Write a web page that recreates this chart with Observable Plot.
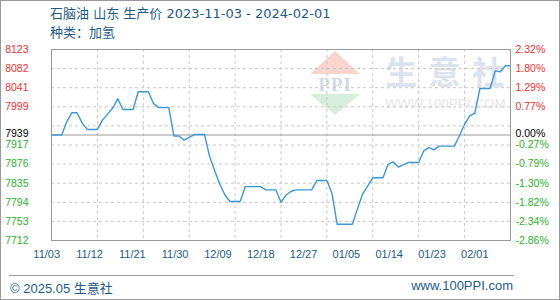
<!DOCTYPE html>
<html><head><meta charset="utf-8">
<script src="https://cdn.jsdelivr.net/npm/d3@7"></script>
<script src="https://cdn.jsdelivr.net/npm/@observablehq/plot@0.6"></script>
<style>
body{margin:0;background:#fff;}
#wrap{position:relative;width:560px;height:300px;overflow:hidden;background:#fff;font-family:"DejaVu Sans","Noto Sans CJK SC",sans-serif;}
#border{position:absolute;left:0;top:0;width:560px;height:300px;box-sizing:border-box;border:1px solid #9a9a9a;pointer-events:none;}
#title{position:absolute;left:50px;top:4px;font-size:13px;line-height:19px;color:#1d5a88;white-space:nowrap;}
#wm{position:absolute;left:0;top:0;}
#wmtext{position:absolute;left:385px;top:47px;font-family:"Noto Sans CJK SC",sans-serif;font-size:32px;font-weight:bold;letter-spacing:11.5px;color:#dde3ec;white-space:nowrap;}
#wmurl{position:absolute;left:385px;top:96px;font-family:"Liberation Sans",sans-serif;font-size:13.5px;color:#e6e6e6;white-space:nowrap;}
#chart{position:absolute;left:0;top:0;}
#footline{position:absolute;left:9px;top:275px;width:505px;height:0;border-top:1px solid #9a9a9a;}
#footl{position:absolute;left:10px;top:278px;font-family:"Liberation Sans","Noto Sans CJK SC",sans-serif;font-size:13px;color:#1d5a88;white-space:nowrap;}
#footr{position:absolute;right:47px;top:278px;font-family:"Liberation Sans",sans-serif;font-size:13px;color:#1d5a88;white-space:nowrap;}
</style></head><body>
<div id="wrap">
  <svg id="wm" width="560" height="300">
    <polygon points="335,51 310,74 360,74" fill="#f9d5d0"/>
    <text x="335" y="91" text-anchor="middle" font-family="Liberation Serif,serif" font-weight="bold" font-size="19" fill="#d2dae8" letter-spacing="1">PPI</text>
    <polygon points="310,94 360,94 335,115" fill="#d6eedb"/>
  </svg>
  <div id="wmtext">生意社</div>
  <div id="wmurl">WWW.100PPI.COM</div>
  <div id="chart"></div>
  <div id="title">石脑油 山东 生产价 2023-11-03 - 2024-02-01<br>种类：加氢</div>
  <div id="footline"></div>
  <div id="footl">© 2025.05 生意社</div>
  <div id="footr">www.100PPI.com</div>
  <div id="border"></div>
</div>
<script>
// ---- data ----
const dates = ["2023-11-03","2023-11-05","2023-11-06","2023-11-07","2023-11-08","2023-11-09","2023-11-10","2023-11-12",
  "2023-11-13","2023-11-14","2023-11-15","2023-11-16","2023-11-17","2023-11-19","2023-11-20","2023-11-22","2023-11-23",
  "2023-11-24","2023-11-26","2023-11-27","2023-11-28","2023-11-29","2023-12-01","2023-12-03","2023-12-04","2023-12-05",
  "2023-12-06","2023-12-07","2023-12-08","2023-12-10","2023-12-11","2023-12-14","2023-12-15","2023-12-17","2023-12-18",
  "2023-12-19","2023-12-20","2023-12-21","2023-12-24","2023-12-25","2023-12-27","2023-12-28","2023-12-29","2024-01-01",
  "2024-01-02","2024-01-03","2024-01-05","2024-01-07","2024-01-08","2024-01-09","2024-01-10","2024-01-12","2024-01-14",
  "2024-01-15","2024-01-16","2024-01-17","2024-01-18","2024-01-21","2024-01-22","2024-01-23","2024-01-24","2024-01-25",
  "2024-01-26","2024-01-28","2024-01-29","2024-01-30","2024-01-31","2024-02-01"];
const prices = [7939,7939,7968,7987,7987,7965,7951,7951,
  7971,7984,7997,8017,7994,7994,8032,8032,8007,
  7998,7998,7937,7937,7928,7940,7940,7893,7862,
  7833,7810,7796,7796,7828,7828,7821,7821,7794,
  7810,7818,7821,7821,7841,7841,7813,7747,7747,
  7780,7812,7847,7847,7876,7881,7870,7880,7880,
  7905,7912,7907,7915,7915,7938,7962,7980,7986,
  8039,8039,8077,8075,8088,8088];
const basePrice = 7939;
const yMin = 7712, yMax = 8123;
const leftLabels = ["7712","7753","7794","7835","7876","7917","7939","7999","8041","8082","8123"];
const rightLabels = ["-2.86%","-2.34%","-1.82%","-1.30%","-0.79%","-0.27%","0.00%","0.77%","1.29%","1.80%","2.32%"];
const xLabels = ["11/03","11/12","11/21","11/30","12/09","12/18","12/27","01/05","01/14","01/23","02/01"];
const startDate = "2023-11-03", endDate = "2024-02-01";

// ---- build ----
const parse = d3.utcParse("%Y-%m-%d");
const data = dates.map((d, i) => ({date: parse(d), price: prices[i]}));
const start = parse(startDate), end = parse(endDate);
const gridDates = d3.range(11).map(i => d3.utcDay.offset(start, 9 * i));
const gridVals = d3.range(11).map(i => yMin + i * (yMax - yMin) / 10);
// label positions: grid values with the one nearest the base replaced by the base price
const labelVals = gridVals.map((v, i) => i === 6 ? basePrice : v);
const labelData = labelVals.map((v, i) => ({v, left: leftLabels[i], right: rightLabels[i]}));
const isBase = d => Math.abs(d.v - basePrice) < 0.01;
const colorOf = d => isBase(d) ? "#000" : (d.v > basePrice ? "#f23030" : "#2db02d");
const baseLabels = labelData.filter(isBase);
const otherLabels = labelData.filter(d => !isBase(d));
const lblFont = {fontSize: 10.5, fontFamily: "Liberation Sans, Arial, sans-serif"};

const xLabelMarks = xLabels.map((t, i) => Plot.text([gridDates[i]], {
  x: d => d, frameAnchor: "bottom", dy: 17, text: () => t,
  dx: -4.8 - 3.09 * i, fill: "#1d5a88", fontSize: 11, fontFamily: "Liberation Sans, Arial, sans-serif"
}));

const plot = Plot.plot({
  width: 560, height: 300,
  marginLeft: 51, marginRight: 50, marginTop: 49, marginBottom: 60,
  style: {background: "transparent", overflow: "visible"},
  x: {type: "utc", domain: [start, end], axis: null},
  y: {domain: [yMin, yMax], axis: null},
  marks: [
    Plot.ruleY(gridVals.slice(1, -1), {stroke: "#c8c8c8", strokeDasharray: "3,3"}),
    Plot.ruleX(gridDates.slice(1, -1), {stroke: "#c8c8c8", strokeDasharray: "3,3"}),
    Plot.ruleY([basePrice], {stroke: "#9a9a9a", strokeWidth: 1.2}),
    Plot.line(data, {x: "date", y: "price", stroke: "#3a98d8", strokeWidth: 1.4}),
    Plot.frame({stroke: "#9a9a9a"}),
    Plot.text(otherLabels, {y: "v", text: "left", frameAnchor: "left", dx: -23, textAnchor: "end", fill: colorOf, ...lblFont}),
    Plot.text(baseLabels, {y: "v", text: "left", frameAnchor: "left", dx: -23, dy: -1.5, textAnchor: "end", fill: colorOf, ...lblFont}),
    Plot.text(otherLabels, {y: "v", text: "right", frameAnchor: "right", dx: 5, textAnchor: "start", fill: colorOf, ...lblFont}),
    Plot.text(baseLabels, {y: "v", text: "right", frameAnchor: "right", dx: 5, dy: -1.5, textAnchor: "start", fill: colorOf, ...lblFont}),
    ...xLabelMarks
  ]
});
document.getElementById("chart").appendChild(plot);
</script>
</body></html>
